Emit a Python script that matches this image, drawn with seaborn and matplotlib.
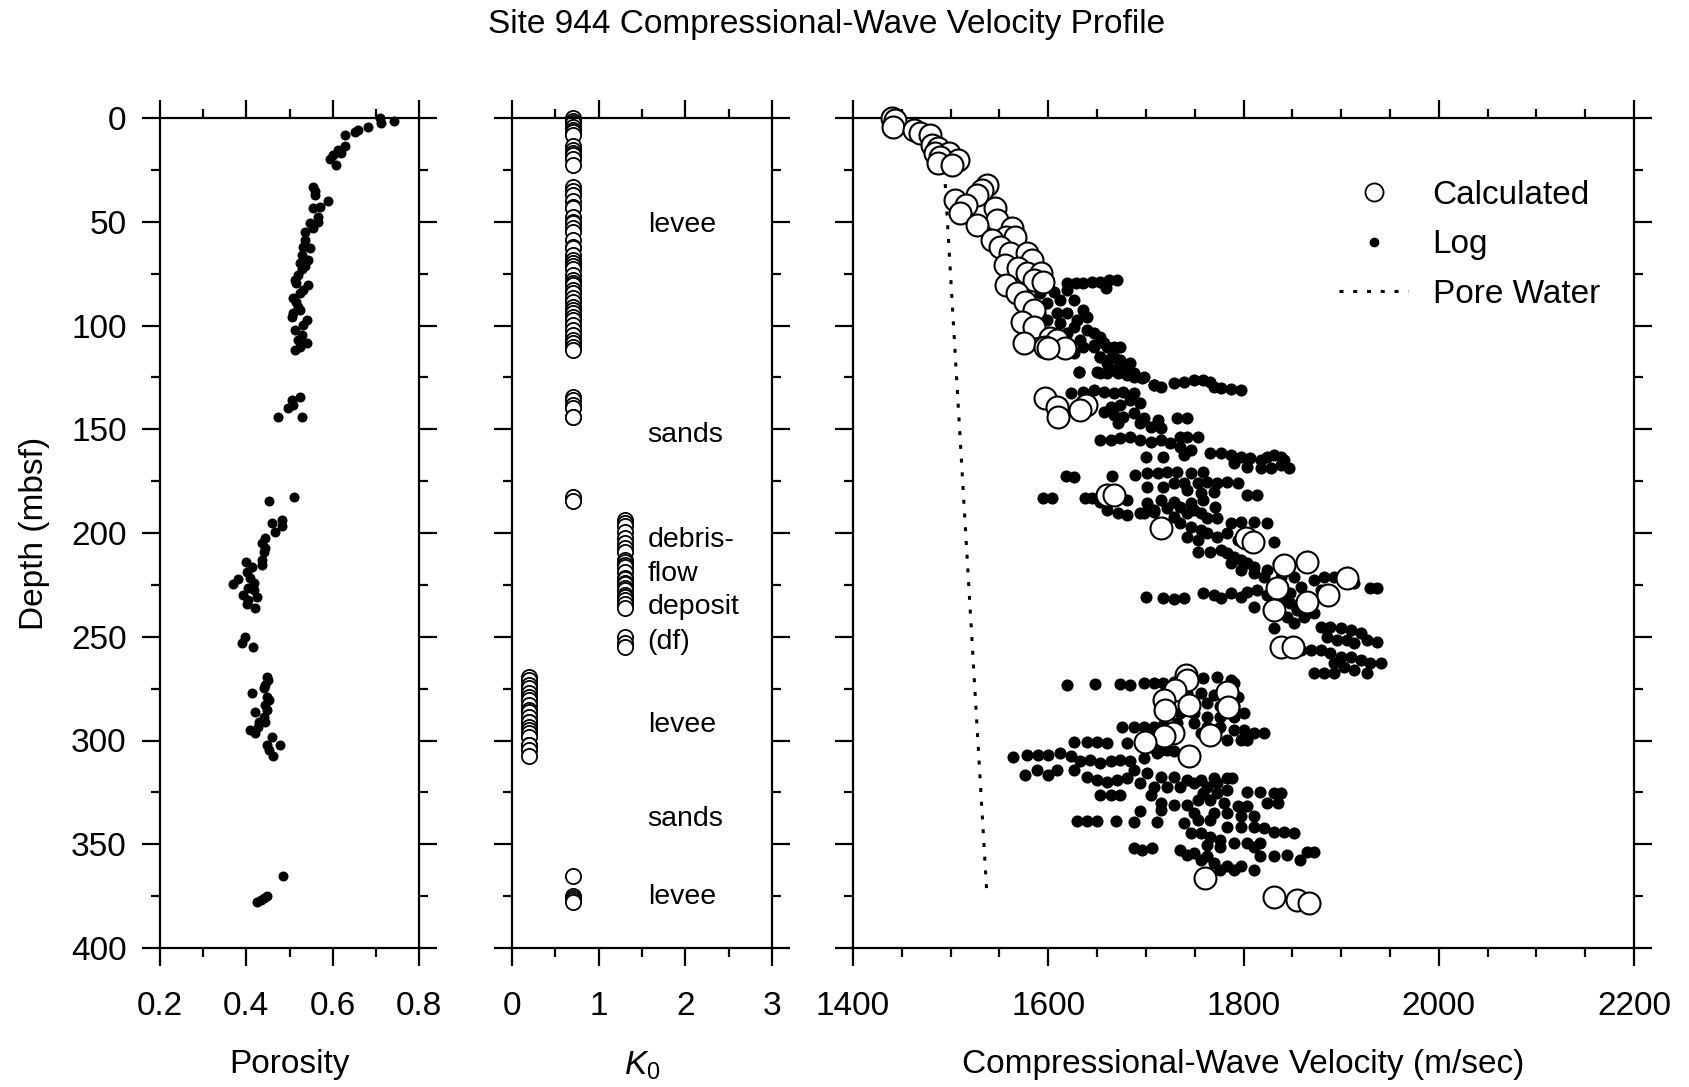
import matplotlib
matplotlib.use("Agg")
import matplotlib.pyplot as plt
from matplotlib.lines import Line2D
from matplotlib.ticker import MultipleLocator
import pandas as pd
import seaborn as sns

# ---------------- data ----------------
por_depth = [0.0, 1.6, 2.6, 4.2, 5.8, 6.6, 8.2, 13.5, 15.4, 17.0, 18.0, 19.7, 22.6,
             33.1, 35.0, 37.1, 39.8, 42.7, 43.5, 47.5, 50.0, 50.7, 53.1, 54.7, 58.8, 62.0, 62.8,
             66.0, 68.4, 70.0, 71.5, 73.0, 75.7, 78.1, 79.7, 80.5, 82.9, 84.5, 86.9, 88.5, 90.9,
             92.5, 94.1, 95.7, 97.3, 99.7, 102.2, 104.6, 107.0, 108.6, 110.2, 111.8,
             134.3, 135.9, 138.3, 139.9, 143.9, 143.9,
             182.8, 184.4,
             193.7, 195.3, 196.5, 199.7, 202.6, 205.0, 207.4, 209.0, 213.0, 213.8, 215.4, 216.2,
             218.6, 221.9, 222.3, 224.3, 224.6, 226.7, 227.5, 229.9, 230.7, 232.3, 234.2, 236.3,
             250.0, 252.8, 254.8,
             269.2, 270.8, 273.2, 274.8, 277.3, 278.9, 280.5, 282.9, 285.3, 286.4, 288.5, 290.9,
             290.9, 293.3, 294.9, 296.5, 298.1, 302.2, 302.2, 304.5, 307.5,
             365.1, 374.7, 375.7, 376.8, 378.0]
porosity = [0.71, 0.742, 0.711, 0.682, 0.659, 0.652, 0.629, 0.629, 0.613, 0.62, 0.60, 0.594, 0.608,
            0.555, 0.56, 0.559, 0.59, 0.571, 0.555, 0.567, 0.567, 0.547, 0.555, 0.536, 0.536, 0.532, 0.547,
            0.528, 0.543, 0.525, 0.536, 0.528, 0.52, 0.513, 0.516, 0.543, 0.532, 0.525, 0.509, 0.516, 0.52,
            0.525, 0.509, 0.505, 0.54, 0.532, 0.513, 0.528, 0.52, 0.54, 0.525, 0.513,
            0.524, 0.505, 0.509, 0.497, 0.474, 0.529,
            0.51, 0.453,
            0.482, 0.459, 0.482, 0.466, 0.443, 0.436, 0.443, 0.44, 0.436, 0.40, 0.436, 0.413,
            0.402, 0.409, 0.381, 0.417, 0.37, 0.405, 0.417, 0.393, 0.424, 0.405, 0.402, 0.42,
            0.397, 0.389, 0.416,
            0.447, 0.45, 0.444, 0.44, 0.412, 0.447, 0.452, 0.444, 0.447, 0.42, 0.442, 0.444,
            0.43, 0.428, 0.408, 0.42, 0.459, 0.478, 0.447, 0.452, 0.461,
            0.484, 0.447, 0.44, 0.433, 0.425]

# K0 per sample (same depths as porosity): levee/sands 0.7, debris flow 1.3, lower levee 0.2, bottom levee 0.7
k0 = [0.7] * 60 + [1.3] * 27 + [0.2] * 21 + [0.7] * 5

calc_depth = [0.0, 1.0, 4.2, 5.8, 7.4, 8.2, 13.0, 14.6, 17.0, 17.0, 18.6, 20.2, 21.8, 22.6,
              32.3, 34.7, 37.1, 39.5, 41.9, 43.5, 45.9, 49.1, 51.6, 53.1, 57.2, 57.2, 58.8, 62.0,
              65.2, 65.2, 68.4, 70.8, 72.4, 74.8, 74.8, 78.1, 78.9, 80.5, 84.5, 88.5, 92.5, 98.1,
              100.5, 106.2, 107.0, 108.6, 110.2, 111.0, 111.0,
              135.1, 138.3, 139.1, 140.7, 143.9,
              181.7, 181.7,
              197.7, 202.6, 204.2, 213.8, 215.4, 221.8, 226.7, 229.9, 233.1, 237.1,
              254.8, 254.8,
              268.4, 270.8, 275.7, 276.5, 280.5, 282.9, 285.3, 284.0, 296.5, 297.3, 298.0, 300.5, 307.7,
              366.4, 375.3, 376.9, 378.5]
calc_vel = [1440, 1443, 1441, 1462, 1469, 1479, 1481, 1487, 1484, 1498, 1489, 1508, 1487, 1501,
            1537, 1532, 1527, 1504, 1516, 1545, 1510, 1547, 1527, 1563, 1557, 1566, 1542, 1551,
            1561, 1578, 1583, 1556, 1569, 1578, 1593, 1585, 1595, 1557, 1568, 1576, 1585, 1573,
            1585, 1602, 1609, 1575, 1597, 1617, 1600,
            1597, 1639, 1609, 1633, 1610,
            1660, 1667,
            1716, 1803, 1810, 1865, 1841, 1906, 1834, 1887, 1865, 1831,
            1838, 1851,
            1741, 1742, 1730, 1783, 1719, 1744, 1720, 1784, 1728, 1766, 1719, 1699, 1744,
            1761, 1831, 1855, 1867]

log_vel = [
    1619, 1628, 1636, 1645, 1653, 1662, 1670, 1659,
    1592, 1606, 1619, 1612, 1626, 1636, 1599, 1609, 1619, 1629, 1599, 1612, 1626, 1640, 1647, 1653,
    1633, 1660, 1647, 1667, 1653, 1674, 1681, 1688, 1667, 1631, 1653, 1698, 1708, 1619, 1640, 1592,
    1626, 1636, 1647, 1657, 1667, 1674, 1653, 1664, 1674, 1684, 1660, 1631, 1650, 1660, 1671, 1681,
    1688, 1696, 1708, 1715, 1729, 1739, 1749, 1759, 1766, 1770, 1777, 1787, 1797,
    1623, 1636, 1647, 1657, 1667, 1677, 1688, 1684, 1694, 1664, 1674,
    1657, 1667, 1677, 1688, 1698, 1712, 1694, 1671, 1715, 1705, 1732, 1742,
    1653, 1664, 1674, 1684, 1694, 1705, 1715, 1725, 1735, 1746, 1735, 1742, 1753,
    1700, 1718, 1739, 1766, 1777, 1787, 1797, 1807, 1818, 1824, 1831, 1838,
    1790, 1804, 1818, 1828, 1838, 1847, 1841,
    1618, 1626, 1665, 1689, 1701, 1712, 1722, 1732, 1746, 1759,
    1701, 1718, 1729, 1739, 1753, 1763, 1773, 1783, 1794, 1804, 1814, 1756, 1770, 1742,
    1595, 1604, 1638, 1645, 1653, 1681, 1701, 1715, 1729, 1746, 1759, 1771,
    1660, 1671, 1681, 1694, 1708, 1722, 1735, 1749, 1763, 1773,
    1698, 1708, 1729, 1742, 1756,
    1735, 1746, 1756, 1763, 1742, 1753, 1773, 1787, 1797, 1811, 1824, 1783, 1794, 1814, 1831,
    1753, 1766, 1777, 1783, 1790, 1797, 1804, 1811, 1787, 1797, 1811, 1824, 1835, 1845, 1852,
    1821, 1838,
    1872, 1882, 1893, 1903, 1913, 1930, 1937, 1879, 1859, 1848, 1841,
    1700, 1718, 1729, 1739, 1759, 1770, 1777, 1787, 1797, 1804, 1814, 1824, 1811,
    1848, 1855, 1862, 1845, 1852, 1865, 1872, 1869,
    1831, 1879, 1889, 1900, 1910, 1920, 1927, 1937, 1886, 1896, 1906, 1913,
    1859, 1869, 1879, 1889, 1900, 1910, 1920, 1930, 1941, 1893, 1903, 1913, 1872, 1882, 1893, 1927,
    1619, 1648, 1674, 1684, 1698, 1708, 1718, 1729, 1746, 1759, 1773, 1787, 1790,
    1742, 1756, 1770, 1783, 1794, 1749, 1763, 1776, 1790, 1800, 1735, 1749, 1763, 1776, 1790,
    1732, 1749, 1763, 1776, 1790, 1800, 1811, 1821, 1770, 1783, 1797, 1804, 1756,
    1676, 1688, 1698, 1708, 1718,
    1626, 1640, 1650, 1660, 1681, 1694, 1705, 1715, 1729,
    1564, 1578, 1590, 1600, 1612, 1623, 1633, 1643, 1653, 1664, 1674, 1684, 1698, 1711, 1722,
    1688, 1701, 1715, 1729, 1742, 1756, 1770, 1783,
    1576, 1588, 1600, 1609, 1626, 1640, 1650, 1660, 1670, 1681,
    1694, 1708, 1722, 1735, 1749, 1763, 1773, 1788, 1783,
    1653, 1664, 1674, 1705, 1759, 1773, 1804, 1817, 1831, 1838,
    1715, 1729, 1742, 1753, 1766, 1780, 1794, 1804, 1770, 1783, 1797, 1811, 1824, 1835,
    1694, 1715, 1749,
    1629, 1640, 1650, 1669, 1688, 1711, 1739, 1753, 1766, 1783, 1797, 1811, 1821, 1831, 1841, 1852,
    1746, 1756, 1766, 1776, 1790, 1804, 1817, 1763, 1776, 1811,
    1688, 1696, 1706, 1735, 1749, 1763,
    1742, 1756, 1770, 1783, 1797, 1811, 1776, 1790, 1817, 1831, 1845, 1858, 1865, 1872]
log_depth = [
    79.3, 79.3, 79.7, 78.9, 78.9, 78.1, 78.1, 82.1,
    84.5, 83.7, 82.9, 87.7, 87.7, 92.5, 89.3, 94.1, 94.1, 97.3, 97.3, 98.9, 100.5, 102.1, 103.7, 105.4,
    107.0, 110.2, 110.2, 115.0, 115.0, 118.2, 119.8, 123.0, 121.4, 122.2, 123.0, 124.6, 128.6, 103.7, 95.7, 94.1,
    113.4, 110.2, 109.4, 108.6, 110.2, 110.2, 115.0, 115.8, 116.6, 118.2, 118.2, 122.3, 122.3, 123.1, 123.1, 123.9,
    124.7, 125.5, 128.7, 129.5, 127.9, 127.1, 126.3, 126.3, 127.1, 129.5, 130.3, 130.8, 131.1,
    132.7, 131.9, 131.1, 131.9, 132.7, 131.9, 132.7, 135.9, 137.5, 139.1, 138.3,
    141.5, 143.1, 143.9, 142.3, 144.7, 145.5, 147.2, 147.2, 149.6, 148.8, 144.7, 144.7,
    155.2, 155.2, 154.4, 153.6, 155.2, 156.0, 155.2, 156.8, 158.4, 160.0, 153.6, 153.6, 153.6,
    163.2, 163.2, 162.4, 161.6, 161.6, 162.4, 163.2, 164.0, 164.8, 163.2, 162.4, 163.2,
    166.4, 168.0, 168.8, 168.8, 167.2, 168.8, 164.8,
    172.5, 172.8, 172.5, 172.0, 171.2, 171.2, 170.4, 170.4, 171.2, 170.4,
    177.7, 177.7, 176.1, 176.1, 176.1, 175.3, 176.1, 175.3, 176.1, 181.7, 181.7, 180.9, 180.1, 179.3,
    183.3, 183.3, 183.3, 183.3, 184.9, 184.1, 185.7, 184.1, 184.9, 185.7, 184.1, 187.3,
    188.9, 190.5, 191.3, 190.5, 188.9, 188.1, 187.3, 188.9, 192.9, 192.9,
    190.5, 189.7, 192.1, 190.5, 190.5,
    195.3, 196.9, 198.5, 200.1, 201.7, 203.4, 201.7, 195.3, 194.5, 194.5, 195.0, 200.1, 203.4, 204.2, 204.2,
    209.0, 209.0, 208.2, 209.8, 211.4, 213.0, 214.6, 216.2, 214.6, 217.8, 219.4, 217.8, 214.6, 217.8, 221.0,
    221.0, 221.0,
    222.6, 221.0, 221.0, 222.6, 224.2, 226.6, 226.6, 227.4, 225.8, 229.1, 232.3,
    230.7, 231.5, 231.9, 231.5, 229.1, 229.9, 231.5, 229.1, 230.7, 228.2, 227.4, 229.9, 235.5,
    233.9, 237.1, 240.3, 240.3, 243.5, 237.1, 238.7, 233.9,
    245.9, 245.1, 245.1, 245.9, 246.7, 248.3, 251.5, 252.3, 249.9, 251.5, 251.5, 253.1,
    256.4, 256.4, 256.4, 258.0, 259.6, 259.6, 261.2, 262.8, 262.8, 262.8, 264.4, 266.0, 267.6, 267.6, 267.6, 267.6,
    273.2, 272.7, 272.7, 273.2, 272.4, 272.4, 272.4, 271.6, 270.8, 270.0, 269.2, 270.8, 272.4,
    277.2, 277.2, 278.0, 278.8, 278.8, 282.0, 282.0, 283.6, 283.6, 286.9, 286.9, 286.9, 288.5, 288.5, 288.5,
    291.7, 291.7, 293.3, 293.3, 294.9, 294.9, 296.5, 296.5, 298.1, 299.7, 299.7, 299.7, 296.5,
    293.3, 293.3, 293.3, 293.3, 292.5,
    300.5, 300.5, 300.5, 301.3, 301.3, 302.1, 302.9, 304.5, 305.3,
    308.1, 306.9, 306.9, 306.9, 306.1, 307.7, 310.1, 309.3, 310.9, 310.1, 309.3, 310.1, 308.5, 306.1, 304.5,
    314.2, 315.8, 317.4, 317.4, 319.0, 319.0, 318.2, 318.2,
    316.6, 314.2, 316.6, 314.2, 314.2, 317.4, 319.0, 319.8, 319.0, 318.2,
    320.6, 322.2, 322.2, 322.2, 320.6, 322.2, 320.6, 318.2, 323.8,
    326.2, 326.2, 326.2, 326.2, 325.4, 325.4, 324.6, 324.6, 325.4, 325.4,
    330.2, 331.0, 331.0, 328.6, 328.6, 330.2, 331.8, 331.8, 335.0, 335.0, 336.6, 336.6, 330.2, 330.2,
    334.2, 333.4, 335.0,
    338.6, 338.6, 338.6, 338.6, 339.5, 339.5, 339.9, 338.3, 338.3, 341.5, 341.5, 341.5, 342.3, 343.9, 343.9, 344.4,
    344.7, 344.7, 346.3, 347.9, 349.5, 349.5, 349.5, 350.3, 351.1, 351.1,
    351.9, 352.7, 351.9, 352.7, 354.3, 355.9,
    355.1, 357.5, 359.1, 360.7, 360.7, 362.3, 362.3, 362.3, 355.9, 355.9, 355.1, 357.5, 353.5, 353.5]

pore_depth = [12.0, 373.0]
pore_vel = [1492, 1537]

unit_labels = ["levee", "sands", "debris-", "flow", "deposit", "(df)", "levee", "sands", "levee"]
unit_depths = [51.5, 153.0, 203.4, 219.8, 235.8, 252.4, 292.5, 338.0, 375.6]

# ---------------- style ----------------
sns.set_style("ticks")
plt.rcParams['font.family'] = ['Liberation Sans', 'DejaVu Sans']
plt.rcParams['mathtext.fontset'] = 'custom'
plt.rcParams['mathtext.it'] = 'Liberation Sans:italic'
plt.rcParams['mathtext.rm'] = 'Liberation Sans'
for key in ['text.color', 'axes.labelcolor', 'xtick.color', 'ytick.color', 'axes.edgecolor']:
    plt.rcParams[key] = 'black'

W, H = 1689, 1087
fig = plt.figure(figsize=(W / 100, H / 100), dpi=100)
fig.patch.set_facecolor("white")


def rect(x0, x1, y0=118, y1=948):
    return [x0 / W, 1 - y1 / H, (x1 - x0) / W, (y1 - y0) / H]


axL = fig.add_axes(rect(160, 419))
axM = fig.add_axes(rect(512, 772))
axR = fig.add_axes(rect(853, 1634))

FS = 24


def style(ax, xlim, xmaj, xmin, label_y=False):
    ax.set_xlim(*xlim)
    ax.set_ylim(400, 0)
    ax.xaxis.set_major_locator(MultipleLocator(xmaj))
    ax.xaxis.set_minor_locator(MultipleLocator(xmin))
    ax.yaxis.set_major_locator(MultipleLocator(50))
    ax.yaxis.set_minor_locator(MultipleLocator(25))
    ax.tick_params(which='both', direction='out', top=True, right=True,
                   bottom=True, left=True, width=1.6, color='black', labelcolor='black')
    ax.tick_params(which='major', length=13)
    ax.tick_params(which='minor', length=6.5)
    ax.tick_params(axis='x', labelsize=FS, pad=18)
    ax.tick_params(axis='y', labelsize=FS, pad=11, labelleft=label_y)
    for s in ax.spines.values():
        s.set_visible(True)
        s.set_linewidth(1.6)
        s.set_color('black')
    ax.set_facecolor('white')
    ax.grid(False)


# Porosity panel
por_df = pd.DataFrame({"depth": por_depth, "porosity": porosity, "k0": k0})
sns.scatterplot(data=por_df, x="porosity", y="depth", ax=axL, color="black",
                s=52, linewidth=0, clip_on=False, legend=False)
style(axL, (0.2, 0.8), 0.2, 0.1, label_y=True)
axL.set_xticks([0.2, 0.4, 0.6, 0.8])
axL.set_xticklabels(["0.2", "0.4", "0.6", "0.8"])
axL.set_xlabel("Porosity", fontsize=FS)
axL.xaxis.label.set_va('center')
axL.xaxis.set_label_coords(0.5, (948 - 1064) / 830)
axL.set_ylabel("Depth (mbsf)", fontsize=FS)
axL.yaxis.label.set_va('center')
axL.yaxis.set_label_coords((35 - 160) / 259, 0.5)

# K0 panel
sns.scatterplot(data=por_df, x="k0", y="depth", ax=axM, color="white",
                edgecolor="black", s=120, linewidth=1.3, clip_on=False, legend=False)
style(axM, (0, 3), 1, 0.5)
axM.set_xlabel(r"$\mathit{K_0}$", fontsize=FS)
axM.xaxis.label.set_va('center')
axM.xaxis.set_label_coords(0.5, (948 - 1066) / 830)
axM.set_ylabel("")
for lab, d in zip(unit_labels, unit_depths):
    axM.text(1.565, d, lab, fontsize=20.5, ha='left', va='center', color='black')

# Velocity panel
pore_df = pd.DataFrame({"depth": pore_depth, "vel": pore_vel})
sns.lineplot(data=pore_df, x="vel", y="depth", ax=axR, sort=False, estimator=None,
             color="black", lw=2.2, linestyle=(0, (1.3, 3.2)), zorder=1, legend=False)
log_df = pd.DataFrame({"depth": log_depth, "vel": log_vel})
sns.scatterplot(data=log_df, x="vel", y="depth", ax=axR, color="black", s=76,
                linewidth=0, zorder=2, legend=False)
calc_df = pd.DataFrame({"depth": calc_depth, "vel": calc_vel})
sns.scatterplot(data=calc_df, x="vel", y="depth", ax=axR, color="white", edgecolor="black",
                s=250, linewidth=1.5, zorder=3, clip_on=False, legend=False)
style(axR, (1400, 2200), 200, 50)
axR.set_xlabel("Compressional-Wave Velocity (m/sec)", fontsize=FS)
axR.xaxis.label.set_va('center')
axR.xaxis.set_label_coords(0.5, (948 - 1064) / 830)
axR.set_ylabel("")

handles = [
    Line2D([], [], marker='o', ls='none', mfc='white', mec='black', ms=13, mew=1.3),
    Line2D([], [], marker='o', ls='none', mfc='black', mec='black', ms=6),
    Line2D([], [], color='black', lw=2.2, ls=(0, (1.3, 3.2))),
]
axR.legend(handles, ["Calculated", "Log", "Pore Water"], loc='upper right',
           bbox_to_anchor=((1600 - 853) / 781, 1 - (180 - 118) / 830), frameon=False,
           fontsize=FS, handlelength=2.05, handletextpad=0.75, labelspacing=0.55,
           borderaxespad=0, borderpad=0)

fig.text(827 / W, 1 - 24 / H, "Site 944 Compressional-Wave Velocity Profile",
         fontsize=FS, ha='center', va='center')

fig.savefig("out.png", dpi=100, facecolor="white")
